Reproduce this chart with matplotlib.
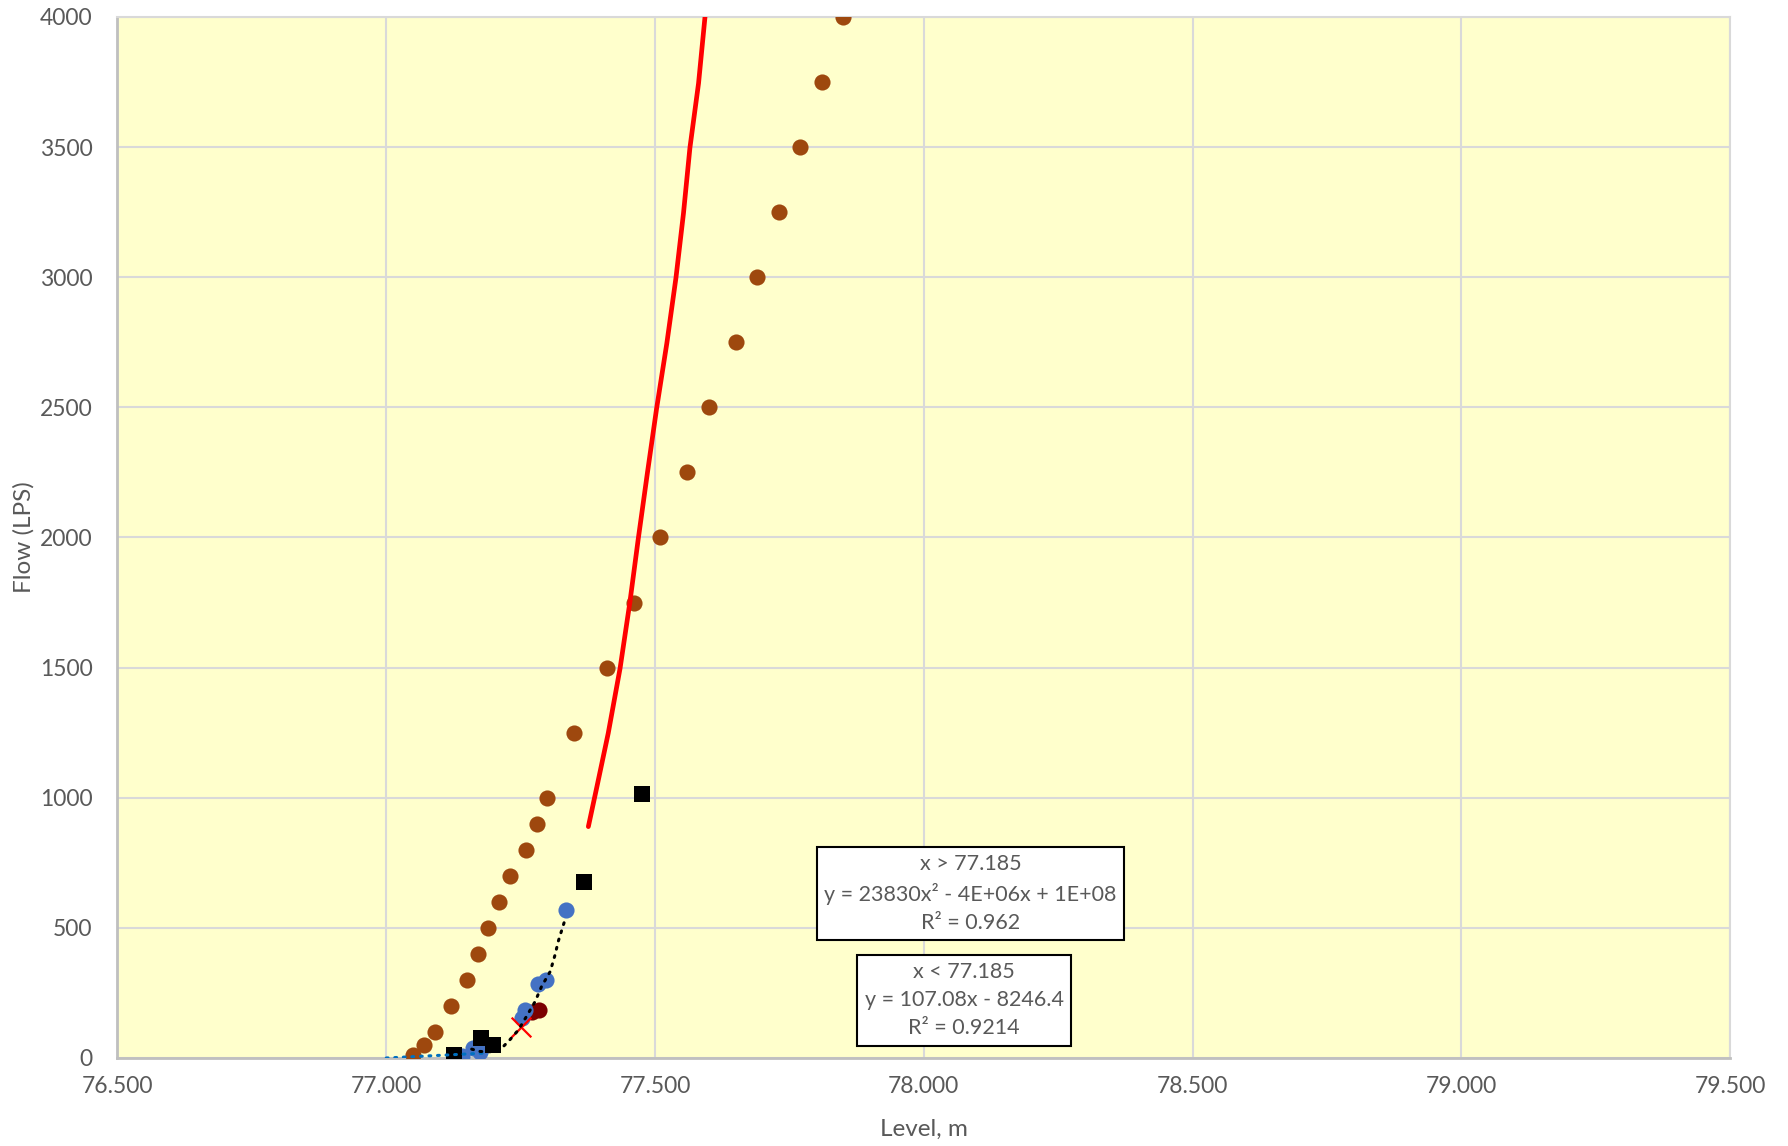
import matplotlib
matplotlib.use("Agg")
import matplotlib.pyplot as plt
import numpy as np

plt.rcParams['font.family'] = ['Lato', 'DejaVu Sans']

# ---- data ----
rating_level = [77.05, 77.07, 77.09, 77.12, 77.15, 77.17, 77.19, 77.21, 77.23, 77.26,
                77.28, 77.30, 77.35, 77.41, 77.46, 77.51, 77.56, 77.60, 77.65, 77.69,
                77.73, 77.77, 77.81, 77.85]
rating_flow = [10, 50, 100, 200, 300, 400, 500, 600, 700, 800,
               900, 1000, 1250, 1500, 1750, 2000, 2250, 2500, 2750, 3000,
               3250, 3500, 3750, 4000]

fit_high_level = [77.376, 77.392, 77.413, 77.435, 77.453, 77.469, 77.486, 77.503,
                  77.522, 77.539, 77.553, 77.565, 77.581, 77.593]
fit_high_flow = [889, 1043, 1248, 1497, 1747, 1997, 2250, 2496,
                 2746, 2998, 3246, 3498, 3745, 4000]

square_level = [77.126, 77.177, 77.198, 77.368, 77.476]
square_flow = [10, 75, 48, 675, 1016]

blue_level = [77.141, 77.162, 77.175, 77.252, 77.258, 77.283, 77.298, 77.334]
blue_flow = [9, 39, 22, 155, 185, 285, 298, 570]

darkred_level = [77.128, 77.272, 77.285]
darkred_flow = [12, 175, 185]

purple_level = [77.127]
purple_flow = [0]

cross_level = [77.250]
cross_flow = [118]

trend_low_level = [77.000, 77.185]
trend_low_flow = [0, 19]

trend_poly_level = [77.159, 77.175, 77.195, 77.215, 77.230, 77.246, 77.261, 77.277,
                    77.289, 77.305, 77.314, 77.320, 77.333]
trend_poly_flow = [34, 25, 24, 38, 70, 108, 160, 217, 275, 332, 396, 448, 534]

x_ticks = [76.5, 77.0, 77.5, 78.0, 78.5, 79.0, 79.5]
y_ticks = [0, 500, 1000, 1500, 2000, 2500, 3000, 3500, 4000]

# ---- figure ----
fig = plt.figure(figsize=(17.88, 11.46), dpi=100)
ax = fig.add_axes([0.0657, 0.0768, 0.9019, 0.9084])
ax.set_facecolor('#FFFFCC')

ax.scatter(rating_level, rating_flow, s=135, color='#9E480E', zorder=3, linewidths=0)
ax.plot(fit_high_level, fit_high_flow, color='#FF0000', lw=3.4, zorder=4,
        solid_capstyle='round', solid_joinstyle='round')
ax.scatter(purple_level, purple_flow, s=110, marker='s', color='#7030A0', zorder=4, linewidths=0)
ax.scatter(darkred_level, darkred_flow, s=135, color='#7B0000', zorder=4, linewidths=0)
ax.scatter(blue_level, blue_flow, s=135, color='#4472C4', zorder=5, linewidths=0)
ax.scatter(square_level, square_flow, s=135, marker='s', color='#000000', zorder=6, linewidths=0)
ax.scatter(cross_level, cross_flow, s=200, marker='x', color='#FF0000', zorder=6, linewidths=1.6)
ax.plot(trend_low_level, trend_low_flow, color='#0070C0', lw=2.2, ls=(0, (0.6, 2.2)),
        dash_capstyle='round', zorder=7)
ax.plot(trend_poly_level, trend_poly_flow, color='#000000', lw=2.2, ls=(0, (0.6, 2.2)),
        dash_capstyle='round', zorder=7)

ax.set_xlim(76.5, 79.5)
ax.set_ylim(0, 4000)
ax.set_xticks(x_ticks)
ax.set_xticklabels([f"{v:.3f}" for v in x_ticks])
ax.set_yticks(y_ticks)
ax.set_yticklabels([str(v) for v in y_ticks])
ax.grid(True, color='#D9D9D9', lw=1.5, zorder=0)
ax.set_axisbelow(True)
ax.tick_params(axis='both', length=0, labelsize=16.5, colors='#595959')
ax.tick_params(axis='x', pad=13)
ax.tick_params(axis='y', pad=18)
for side in ['top', 'right']:
    ax.spines[side].set_color('#D9D9D9')
    ax.spines[side].set_linewidth(1.5)
for side in ['bottom', 'left']:
    ax.spines[side].set_color('#BFBFBF')
    ax.spines[side].set_linewidth(2)

ax.set_xlabel('Level, m', fontsize=17.5, color='#595959', labelpad=16)
ax.set_ylabel('Flow (LPS)', fontsize=17.5, color='#595959', labelpad=4)

box = dict(boxstyle='square,pad=0.33', facecolor='white', edgecolor='black', lw=1.5)
ax.text(0.529, 0.1577, "x > 77.185\ny = 23830x² - 4E+06x + 1E+08\nR² = 0.962",
        transform=ax.transAxes, ha='center', va='center', fontsize=15.5, color='#595959',
        linespacing=1.5, bbox=box, zorder=10)
ax.text(0.525, 0.0553, "x < 77.185\ny = 107.08x - 8246.4\nR² = 0.9214",
        transform=ax.transAxes, ha='center', va='center', fontsize=15.5, color='#595959',
        linespacing=1.5, bbox=box, zorder=10)

fig.savefig('out.png', dpi=100, facecolor='white')
